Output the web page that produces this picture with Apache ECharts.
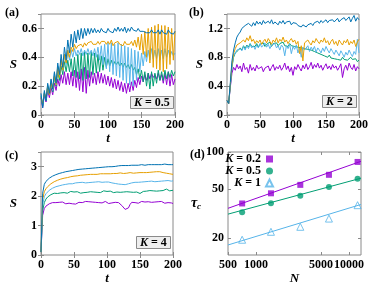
<!DOCTYPE html>
<html><head><meta charset="utf-8">
<script src="https://cdn.jsdelivr.net/npm/echarts@6/dist/echarts.min.js"></script>
<style>html,body{margin:0;padding:0;background:#fff}#c{width:374px;height:288px}</style>
</head><body><div id="c"></div>
<script>
// sample times (t) for panels a, b, c
const times = [0,2.5,5,7.5,10,12.5,15,17.5,20,22.5,25,27.5,30,32.5,35,37.5,40,42.5,45,47.5,50,52.5,55,57.5,60,62.5,65,67.5,70,72.5,75,77.5,80,82.5,85,87.5,90,92.5,95,97.5,100,102.5,105,107.5,110,112.5,115,117.5,120,122.5,125,127.5,130,132.5,135,137.5,140,142.5,145,147.5,150,152.5,155,157.5,160,162.5,165,167.5,170,172.5,175,177.5,180,182.5,185,187.5,190,192.5,195,197.5,200];

// Panel (a) K = 0.5
const aBlue = [0.15,0.05,0.17,0.10,0.22,0.15,0.25,0.18, 0.30,0.22,0.36,0.28,0.42,0.33,0.47,0.38, 0.52,0.43,0.56,0.47,0.58,0.50,0.59,0.52, 0.60,0.53,0.60,0.55,0.60,0.56,0.60,0.57, 0.60,0.57,0.59,0.57,0.60,0.58,0.59,0.57, 0.60,0.58,0.59,0.57,0.60,0.58,0.61,0.58, 0.60,0.58,0.61,0.57,0.60,0.58,0.61,0.59, 0.59,0.58,0.60,0.58,0.59,0.58,0.59,0.57, 0.58,0.57,0.59,0.57,0.58,0.57,0.59,0.56, 0.59,0.57,0.58,0.56,0.59,0.57,0.58,0.56, 0.58];
const aOrange = [0.12,0.08,0.15,0.12,0.20,0.14,0.22,0.18, 0.27,0.21,0.33,0.26,0.38,0.31,0.42,0.36, 0.45,0.40,0.47,0.44,0.49,0.46,0.48,0.47, 0.49,0.47,0.50,0.48,0.50,0.49,0.51,0.49, 0.50,0.49,0.51,0.49,0.51,0.50,0.51,0.49, 0.51,0.49,0.52,0.48,0.50,0.49,0.51,0.49, 0.50,0.48,0.51,0.49,0.50,0.49,0.51,0.48, 0.52,0.47,0.54,0.45,0.56,0.42,0.58,0.40, 0.60,0.36,0.61,0.33,0.62,0.32,0.63,0.31, 0.62,0.30,0.62,0.32,0.61,0.35,0.60,0.38, 0.58];
const aLight = [0.14,0.07,0.16,0.11,0.21,0.15,0.24,0.17, 0.29,0.21,0.34,0.27,0.39,0.31,0.42,0.35, 0.44,0.38,0.45,0.40,0.46,0.41,0.45,0.42, 0.46,0.41,0.45,0.42,0.46,0.42,0.45,0.41, 0.46,0.40,0.47,0.38,0.48,0.35,0.49,0.32, 0.50,0.30,0.50,0.28,0.49,0.27,0.50,0.26, 0.49,0.24,0.48,0.22,0.47,0.21,0.46,0.20, 0.45,0.24,0.44,0.30,0.43,0.34,0.44,0.37, 0.45,0.38,0.46,0.39,0.45,0.39,0.46,0.38, 0.45,0.39,0.46,0.40,0.45,0.40,0.44,0.41, 0.43];
const aGreen = [0.13,0.06,0.15,0.10,0.19,0.14,0.22,0.16, 0.26,0.20,0.30,0.24,0.34,0.28,0.37,0.30, 0.38,0.30,0.39,0.27,0.40,0.26,0.42,0.25, 0.43,0.24,0.44,0.25,0.43,0.26,0.44,0.28, 0.43,0.29,0.42,0.30,0.41,0.31,0.40,0.33, 0.39,0.34,0.38,0.34,0.37,0.35,0.37,0.34, 0.36,0.33,0.36,0.33,0.35,0.32,0.35,0.31, 0.33,0.28,0.32,0.25,0.31,0.23,0.30,0.20, 0.29,0.18,0.30,0.20,0.29,0.22,0.31,0.24, 0.30,0.24,0.31,0.25,0.30,0.26,0.31,0.27, 0.30];
const aPurple = [0.12,0.05,0.14,0.09,0.17,0.12,0.19,0.14, 0.22,0.17,0.25,0.20,0.28,0.22,0.30,0.21, 0.29,0.21,0.30,0.20,0.31,0.19,0.30,0.17, 0.32,0.16,0.33,0.15,0.31,0.20,0.30,0.22, 0.29,0.21,0.30,0.22,0.29,0.22,0.28,0.21, 0.27,0.20,0.26,0.19,0.25,0.18,0.24,0.17, 0.23,0.16,0.22,0.15,0.22,0.16,0.23,0.17, 0.24,0.19,0.26,0.21,0.27,0.23,0.28,0.24, 0.29,0.25,0.29,0.26,0.28,0.25,0.29,0.24, 0.28,0.22,0.29,0.21,0.30,0.20,0.28,0.21, 0.25];

// Panel (b) K = 2
const bBlue = [0.20,0.16,0.45,0.75,0.90,1.00,1.08,1.12, 1.15,1.20,1.18,1.24,1.22,1.27,1.25,1.23, 1.28,1.24,1.30,1.26,1.29,1.25,1.31,1.27, 1.26,1.30,1.27,1.32,1.26,1.29,1.28,1.25, 1.30,1.27,1.31,1.26,1.29,1.27,1.30,1.25, 1.28,1.26,1.27,1.24,1.26,1.22,1.25,1.23, 1.22,1.25,1.23,1.27,1.24,1.28,1.26,1.30, 1.27,1.31,1.28,1.30,1.32,1.28,1.31,1.29, 1.32,1.29,1.31,1.34,1.29,1.32,1.30,1.35, 1.31,1.33,1.36,1.29,1.34,1.38,1.30,1.35, 1.32];
const bOrange = [0.20,0.16,0.42,0.70,0.85,0.92,0.97,0.95, 1.00,0.98,1.04,1.01,1.07,1.03,1.10,1.02, 1.05,0.99,1.03,1.00,1.04,0.98,1.02,1.05, 1.00,1.06,1.02,0.98,1.04,1.01,1.07,1.00, 1.05,1.02,1.08,1.01,1.04,0.99,1.03,1.06, 1.01,1.04,0.98,1.02,0.85,0.96,0.75,1.00, 0.98,1.04,1.00,0.97,1.03,1.00,1.06,1.02, 0.99,1.04,1.01,1.07,1.00,1.03,0.97,1.02, 1.05,0.98,1.02,0.96,1.04,1.00,0.97,1.03, 1.00,1.05,0.97,1.02,0.99,1.04,0.95,1.01, 1.05];
const bLight = [0.20,0.16,0.40,0.68,0.82,0.86,0.90,0.88, 0.92,0.89,0.95,0.90,0.96,0.92,0.98,0.93, 0.96,0.91,0.97,0.93,0.99,0.94,0.96,1.00, 0.94,0.98,0.92,0.97,0.95,0.99,0.93,0.96, 0.90,0.97,0.94,0.82,0.96,0.92,0.98,0.85, 0.95,0.91,0.97,0.86,0.93,0.80,0.94,0.90, 0.92,0.96,0.88,0.94,0.90,0.95,0.87,0.93, 0.90,0.86,0.93,0.88,0.95,0.90,0.86,0.92, 0.88,0.84,0.90,0.86,0.82,0.89,0.85,0.80, 0.87,0.83,0.90,0.85,0.81,0.88,0.84,1.05, 0.86];
const bGreen = [0.20,0.16,0.40,0.66,0.80,0.86,0.88,0.90, 0.93,0.90,0.96,0.92,0.97,0.94,0.99,0.95, 0.97,0.95,0.99,0.94,0.98,0.96,1.00,0.95, 0.98,0.96,1.01,0.95,0.99,0.97,1.00,0.96, 0.99,0.97,1.01,0.96,0.98,0.95,0.99,0.96, 0.98,0.95,0.97,0.94,0.96,0.93,0.95,0.92, 0.94,0.91,0.93,0.90,0.92,0.88,0.90,0.86, 0.88,0.84,0.86,0.82,0.84,0.80,0.83,0.79, 0.81,0.78,0.80,0.77,0.79,0.76,0.80,0.77, 0.79,0.76,0.78,0.80,0.77,0.75,0.78,0.74, 0.76];
const bPurple = [0.20,0.16,0.38,0.58,0.66,0.62,0.70,0.64, 0.68,0.60,0.72,0.63,0.66,0.58,0.70,0.62, 0.66,0.61,0.69,0.64,0.62,0.67,0.60,0.65, 0.63,0.68,0.61,0.66,0.70,0.62,0.67,0.64, 0.69,0.62,0.66,0.72,0.63,0.68,0.60,0.66, 0.55,0.67,0.63,0.70,0.65,0.61,0.69,0.64, 0.71,0.63,0.67,0.73,0.64,0.70,0.66,0.72, 0.65,0.69,0.62,0.67,0.71,0.64,0.68,0.63, 0.70,0.65,0.68,0.62,0.66,0.71,0.52,0.64, 0.69,0.62,0.72,0.66,0.63,0.70,0.61,0.67, 0.64];

// Panel (c) K = 4
const cBlue = [0.10,2.10,2.40,2.50,2.55,2.61,2.66,2.68, 2.70,2.73,2.75,2.77,2.78,2.80,2.81,2.83, 2.84,2.85,2.86,2.87,2.89,2.89,2.90,2.91, 2.92,2.92,2.93,2.93,2.94,2.94,2.95,2.95, 2.96,2.96,2.97,2.97,2.98,2.98,2.99,2.99, 3.00,3.00,3.01,3.00,3.02,3.01,3.02,3.03, 3.03,3.04,3.03,3.04,3.05,3.04,3.05,3.05, 3.06,3.05,3.06,3.05,3.06,3.07,3.06,3.05, 3.06,3.07,3.06,3.07,3.06,3.07,3.08,3.07, 3.08,3.07,3.08,3.09,3.08,3.07,3.08,3.07, 3.07];
const cOrange = [0.10,1.90,2.15,2.25,2.32,2.38,2.42,2.46, 2.49,2.52,2.54,2.56,2.58,2.59,2.61,2.62, 2.63,2.64,2.66,2.67,2.68,2.69,2.69,2.70, 2.71,2.71,2.72,2.72,2.73,2.73,2.74,2.73, 2.74,2.75,2.74,2.75,2.76,2.75,2.76,2.77, 2.76,2.77,2.76,2.78,2.77,2.78,2.77,2.78, 2.79,2.78,2.77,2.79,2.78,2.79,2.80,2.79, 2.78,2.80,2.79,2.78,2.80,2.79,2.80,2.81, 2.80,2.79,2.81,2.80,2.82,2.81,2.83,2.82, 2.83,2.82,2.80,2.79,2.78,2.77,2.76,2.75, 2.74];
const cLight = [0.10,1.70,1.98,2.08,2.14,2.20,2.24,2.27, 2.30,2.32,2.34,2.35,2.37,2.38,2.39,2.40, 2.41,2.42,2.43,2.42,2.44,2.45,2.44,2.46, 2.45,2.47,2.46,2.45,2.47,2.46,2.48,2.47, 2.46,2.48,2.47,2.49,2.48,2.47,2.49,2.48, 2.47,2.48,2.46,2.45,2.44,2.43,2.42,2.41, 2.42,2.40,2.41,2.39,2.41,2.42,2.44,2.45, 2.46,2.47,2.48,2.47,2.49,2.48,2.50,2.49, 2.48,2.50,2.49,2.51,2.50,2.49,2.51,2.50, 2.52,2.51,2.50,2.52,2.51,2.53,2.52,2.51, 2.52];
const cGreen = [0.10,1.50,1.78,1.90,1.97,2.02,2.05,2.08, 2.10,2.12,2.09,2.14,2.11,2.15,2.12,2.14, 2.10,2.13,2.16,2.12,2.14,2.11,2.15,2.13, 2.10,2.14,2.12,2.16,2.13,2.11,2.15,2.12, 2.14,2.17,2.13,2.15,2.12,2.16,2.18,2.14, 2.16,2.13,2.17,2.15,2.12,2.16,2.14,2.11, 2.13,2.16,2.14,2.12,2.15,2.18,2.14,2.11, 2.13,2.10,2.14,2.12,2.09,2.13,2.16,2.14, 2.17,2.15,2.19,2.16,2.18,2.21,2.17,2.20, 2.18,2.22,2.19,2.21,2.24,2.20,2.18,2.22, 2.20];
const cPurple = [0.10,1.35,1.58,1.66,1.70,1.74,1.76,1.78, 1.80,1.78,1.81,1.79,1.82,1.80,1.77,1.74, 1.72,1.76,1.70,1.74,1.77,1.73,1.75,1.79, 1.81,1.78,1.80,1.82,1.79,1.81,1.78,1.80, 1.82,1.79,1.81,1.78,1.80,1.77,1.79,1.82, 1.78,1.75,1.80,1.77,1.81,1.79,1.82,1.78, 1.74,1.68,1.62,1.55,1.50,1.60,1.72,1.79, 1.81,1.78,1.80,1.76,1.79,1.82,1.78,1.80, 1.77,1.81,1.83,1.79,1.82,1.80,1.84,1.81, 1.78,1.82,1.79,1.76,1.80,1.78,1.74,1.77, 1.75];

// Panel (d): tau_c vs N
const sizeN = [710, 1450, 3000, 6100, 12400];
const tauK02 = [38.1, 46.1, 54.0, 65.2, 83.0];
const tauK05 = [32.3, 38.3, 44.1, 52.0, 60.5];
const tauK1  = [19.3, 22.4, 24.6, 28.7, 36.9];
const fitN = [500, 13500];
const fitK02 = [34.8, 84.0];
const fitK05 = [31.2, 61.2];
const fitK1  = [17.5, 37.4];
const xTicksD = [500, 1000, 5000, 10000];
const yTicksD = [20, 50, 100];
const legendNames = ['K = 0.2', 'K = 0.5', 'K = 1'];

const panelLabels = ['(a)', '(b)', '(c)', '(d)'];
const boxLabels = ['0.5', '2', '4'];

const COL = {purple:'#9400D3', green:'#009E73', light:'#56B4E9', orange:'#E69F00', blue:'#0072B2'};
const SERIF = '"Liberation Serif","Times New Roman",serif';
const FRAME = '#8a8a8a';

const chart = echarts.init(document.getElementById('c'), null, {renderer:'canvas'});

const grids = [
  {left:41, top:14, width:134, height:101},
  {left:227, top:14, width:132, height:101},
  {left:41, top:152, width:132, height:103},
  {left:228, top:152, width:133, height:103}
].map(g => Object.assign({show:true, borderColor:FRAME, borderWidth:1, backgroundColor:'transparent'}, g));

const lblStyle = {fontFamily:SERIF, fontWeight:'bold', fontSize:12, color:'#000'};
const nameStyle = {fontFamily:SERIF, fontWeight:'bold', fontStyle:'italic', fontSize:13, color:'#000'};
const tick = {show:true, inside:true, length:3, lineStyle:{color:FRAME, width:1}};

const xAxes = [], yAxes = [];
const yCfg = [{max:0.7, interval:0.2}, {max:1.4, interval:0.4}, {max:3.5, interval:1}];
for (let i = 0; i < 3; i++) {
  xAxes.push({type:'value', gridIndex:i, min:0, max:200, interval:50, axisLine:{show:false}, axisTick:tick, splitLine:{show:false},
    axisLabel:Object.assign({margin:4}, lblStyle), name:'t', nameLocation:'middle', nameGap:17, nameTextStyle:nameStyle});
  xAxes.push({type:'value', gridIndex:i, position:'top', min:0, max:200, interval:50, axisLine:{show:false}, axisTick:tick, splitLine:{show:false}, axisLabel:{show:false}});
  yAxes.push({type:'value', gridIndex:i, min:0, max:yCfg[i].max, interval:yCfg[i].interval, axisLine:{show:false}, axisTick:tick, splitLine:{show:false},
    axisLabel:Object.assign({margin:4, showMaxLabel:false}, lblStyle), name:'S', nameLocation:'middle', nameRotate:0, nameGap:24, nameTextStyle:nameStyle});
  yAxes.push({type:'value', gridIndex:i, position:'right', min:0, max:yCfg[i].max, interval:yCfg[i].interval, axisLine:{show:false}, axisTick:tick, splitLine:{show:false}, axisLabel:{show:false}});
}
// panel d log axes
xAxes.push({type:'log', logBase:10, gridIndex:3, min:500, max:13500, axisLine:{show:false}, splitLine:{show:false},
  axisTick:Object.assign({customValues:xTicksD}, tick),
  axisLabel:Object.assign({margin:4, customValues:xTicksD, formatter:v => String(Math.round(v))}, lblStyle),
  name:'N', nameLocation:'middle', nameGap:17, nameTextStyle:nameStyle});
xAxes.push({type:'log', logBase:10, gridIndex:3, position:'top', min:500, max:13500, axisLine:{show:false}, splitLine:{show:false},
  axisTick:Object.assign({customValues:xTicksD}, tick), axisLabel:{show:false}});
yAxes.push({type:'log', logBase:10, gridIndex:3, min:14.5, max:100, axisLine:{show:false}, splitLine:{show:false},
  axisTick:Object.assign({customValues:yTicksD}, tick),
  axisLabel:Object.assign({margin:4, customValues:yTicksD, formatter:v => String(Math.round(v))}, lblStyle),
  name:'{t|τ}{s|c}', nameLocation:'middle', nameRotate:0, nameGap:23,
  nameTextStyle:Object.assign({}, nameStyle, {rich:{
    t:{fontFamily:SERIF, fontWeight:'bold', fontStyle:'italic', fontSize:14, color:'#000'},
    s:{fontFamily:SERIF, fontWeight:'bold', fontSize:9, color:'#000', padding:[7,0,0,0]}}})});
yAxes.push({type:'log', logBase:10, gridIndex:3, position:'right', min:14.5, max:100, axisLine:{show:false}, splitLine:{show:false},
  axisTick:Object.assign({customValues:yTicksD}, tick), axisLabel:{show:false}});

const panels = [
  [aPurple, aGreen, aLight, aOrange, aBlue],
  [bPurple, bGreen, bLight, bOrange, bBlue],
  [cPurple, cGreen, cLight, cOrange, cBlue]
];
const order = ['purple','green','light','orange','blue'];
const series = [];
panels.forEach((arrs, p) => {
  arrs.forEach((arr, k) => {
    series.push({type:'line', name:'p'+p+order[k], xAxisIndex:2*p, yAxisIndex:2*p, showSymbol:false, symbol:'none',
      animation:false, lineStyle:{color:COL[order[k]], width:1}, itemStyle:{color:COL[order[k]]},
      data: times.map((t, i) => [t, arr[i]])});
  });
});
const fits = [[fitK02, COL.purple], [fitK05, COL.green], [fitK1, COL.light]];
fits.forEach(([f, c], k) => {
  series.push({type:'line', name:'fit'+k, xAxisIndex:6, yAxisIndex:6, symbol:'none', animation:false,
    lineStyle:{color:c, width:1}, data: fitN.map((n, i) => [n, f[i]])});
});
series.push({type:'scatter', name:legendNames[0], xAxisIndex:6, yAxisIndex:6, symbol:'rect', symbolSize:6, animation:false,
  itemStyle:{color:COL.purple}, data: sizeN.map((n, i) => [n, tauK02[i]])});
series.push({type:'scatter', name:legendNames[1], xAxisIndex:6, yAxisIndex:6, symbol:'circle', symbolSize:6, animation:false,
  itemStyle:{color:COL.green}, data: sizeN.map((n, i) => [n, tauK05[i]])});
series.push({type:'scatter', name:legendNames[2], xAxisIndex:6, yAxisIndex:6, symbol:'triangle', symbolSize:7, animation:false,
  itemStyle:{color:'rgba(255,255,255,0)', borderColor:COL.light, borderWidth:1}, data: sizeN.map((n, i) => [n, tauK1[i]])});

const italicRich = {i:{fontFamily:SERIF, fontWeight:'bold', fontStyle:'italic', fontSize:12, color:'#000'},
                    n:{fontFamily:SERIF, fontWeight:'bold', fontSize:12, color:'#000'},
                    p:{fontFamily:SERIF, fontSize:12, width:9}};

const titles = [];
const lblPos = [[5,7],[189,7],[5,150],[190,149]];
panelLabels.forEach((s, i) => titles.push({text:s, left:lblPos[i][0], top:lblPos[i][1], padding:0,
  textStyle:{fontFamily:SERIF, fontWeight:'bold', fontSize:12, color:'#000'}}));
const boxPos = [[130,96],[322,95],[136,236]];
boxLabels.forEach((s, i) => titles.push({text:'{i|K}{n| = ' + s + '}', left:boxPos[i][0], top:boxPos[i][1],
  padding:[1,4,0,4], backgroundColor:'#eeeeee', borderColor:FRAME, borderWidth:1,
  textStyle:{fontFamily:SERIF, fontWeight:'bold', fontSize:12, color:'#000', rich:italicRich}}));

chart.setOption({
  animation:false,
  title: titles,
  grid: grids,
  xAxis: xAxes,
  yAxis: yAxes,
  legend: {data:legendNames, orient:'vertical', right:100, top:153, align:'right',
    itemWidth:7, itemHeight:7, itemGap:0, padding:0, selectedMode:false,
    formatter: s => (s.length < 7 ? '{p| }' : '') + '{i|K}{n|' + s.slice(1) + '}',
    textStyle:{fontFamily:SERIF, fontWeight:'bold', fontSize:12, color:'#000', lineHeight:11, rich:italicRich}},
  series: series
});
</script>
</body></html>
